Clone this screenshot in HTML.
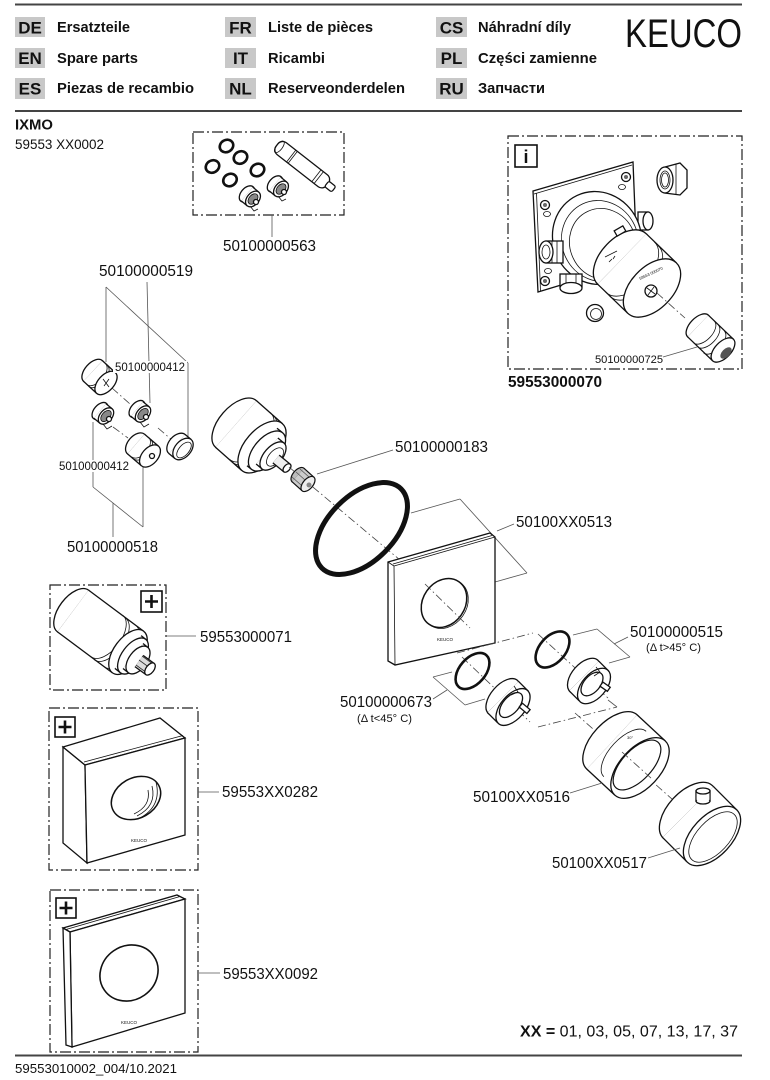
<!DOCTYPE html>
<html><head><meta charset="utf-8"><style>
html,body{margin:0;padding:0;background:#fff;}
svg{display:block;}
.t{font-family:"Liberation Sans",Arial,sans-serif;fill:#111;}
.dd{fill:none;stroke:#222;stroke-width:1.2;stroke-dasharray:11 3 2 3;}
.ax{fill:none;stroke:#444;stroke-width:0.8;stroke-dasharray:8 3 1.5 3;}
.ld{fill:none;stroke:#555;stroke-width:0.8;}
.p{fill:#fff;stroke:#111;stroke-width:1.3;}
.pl{fill:none;stroke:#111;stroke-width:0.8;}
.ring{fill:none;stroke:#111;stroke-width:2.6;}
</style></head><body>
<svg width="770" height="1080" viewBox="0 0 770 1080" xmlns="http://www.w3.org/2000/svg">
<rect width="770" height="1080" fill="#fff"/>

<!-- ===== HEADER ===== -->
<line x1="15" y1="4.5" x2="742" y2="4.5" stroke="#444" stroke-width="2"/>
<g fill="#c8c8c8">
<rect x="15" y="17" width="30" height="20"/><rect x="15" y="48" width="30" height="20"/><rect x="15" y="78" width="30" height="21"/>
<rect x="225" y="17" width="31" height="20"/><rect x="225" y="48" width="31" height="20"/><rect x="225" y="78" width="31" height="21"/>
<rect x="436" y="17" width="31" height="20"/><rect x="436" y="48" width="31" height="20"/><rect x="436" y="78" width="31" height="21"/>
</g>
<g class="t" font-weight="bold" font-size="17" text-anchor="middle">
<text x="30" y="33.5">DE</text><text x="30" y="64">EN</text><text x="30" y="94.5">ES</text>
<text x="240.5" y="33.5">FR</text><text x="240.5" y="64">IT</text><text x="240.5" y="94.5">NL</text>
<text x="451.5" y="33.5">CS</text><text x="451.5" y="64">PL</text><text x="451.5" y="94.5">RU</text>
</g>
<g class="t" font-weight="bold" font-size="15" lengthAdjust="spacingAndGlyphs">
<text x="57" y="32" textLength="73" lengthAdjust="spacingAndGlyphs">Ersatzteile</text>
<text x="57" y="63" textLength="81" lengthAdjust="spacingAndGlyphs">Spare parts</text>
<text x="57" y="93" textLength="137" lengthAdjust="spacingAndGlyphs">Piezas de recambio</text>
<text x="268" y="32" textLength="105" lengthAdjust="spacingAndGlyphs">Liste de pièces</text>
<text x="268" y="63" textLength="57" lengthAdjust="spacingAndGlyphs">Ricambi</text>
<text x="268" y="93" textLength="137" lengthAdjust="spacingAndGlyphs">Reserveonderdelen</text>
<text x="478" y="32" textLength="93" lengthAdjust="spacingAndGlyphs">Náhradní díly</text>
<text x="478" y="63" textLength="119" lengthAdjust="spacingAndGlyphs">Części zamienne</text>
<text x="478" y="93" textLength="67" lengthAdjust="spacingAndGlyphs">Запчасти</text>
</g>
<text class="t" x="625" y="47" font-size="40" textLength="117" lengthAdjust="spacingAndGlyphs">KEUCO</text>
<line x1="15" y1="111" x2="742" y2="111" stroke="#444" stroke-width="2"/>
<text class="t" x="15" y="129.5" font-size="14.5" font-weight="bold" textLength="38" lengthAdjust="spacingAndGlyphs">IXMO</text>
<text class="t" x="15" y="149" font-size="13.5" textLength="89" lengthAdjust="spacingAndGlyphs">59553 XX0002</text>

<!-- ===== BOX A : 50100000563 ===== -->
<rect x="193" y="132" width="151" height="83" class="dd"/>
<g class="ring">
<ellipse cx="226.5" cy="146" rx="7" ry="6" transform="rotate(-30 226.5 146)"/>
<ellipse cx="240.5" cy="157.5" rx="7" ry="6" transform="rotate(-30 240.5 157.5)"/>
<ellipse cx="212.5" cy="166.5" rx="7" ry="6" transform="rotate(-30 212.5 166.5)"/>
<ellipse cx="257.5" cy="170" rx="7" ry="6" transform="rotate(-30 257.5 170)"/>
<ellipse cx="230" cy="180" rx="7" ry="6" transform="rotate(-30 230 180)"/>
</g>
<g transform="translate(250,197)">
<ellipse cx="-3" cy="-3" rx="6" ry="9.5" transform="rotate(41 -3 -3)" class="p"/>
<line x1="-3" y1="-3" x2="3" y2="2" stroke="#111" stroke-width="19.3"/><line x1="-3" y1="-3" x2="3" y2="2" stroke="#fff" stroke-width="16.7"/>
<ellipse cx="3" cy="2" rx="6" ry="9" transform="rotate(41 3 2)" class="p"/>
<ellipse cx="3" cy="2" rx="4" ry="6" transform="rotate(41 3 2)" fill="#888" stroke="#111" stroke-width="0.8"/>
<circle cx="6" cy="5" r="2.5" class="p"/><path d="M0,9 l4,5 l4,-2" class="pl"/>
</g>
<g transform="translate(278,187)">
<ellipse cx="-3" cy="-3" rx="6" ry="9.5" transform="rotate(41 -3 -3)" class="p"/>
<line x1="-3" y1="-3" x2="3" y2="2" stroke="#111" stroke-width="19.3"/><line x1="-3" y1="-3" x2="3" y2="2" stroke="#fff" stroke-width="16.7"/>
<ellipse cx="3" cy="2" rx="6" ry="9" transform="rotate(41 3 2)" class="p"/>
<ellipse cx="3" cy="2" rx="4" ry="6" transform="rotate(41 3 2)" fill="#888" stroke="#111" stroke-width="0.8"/>
<circle cx="6" cy="5" r="2.5" class="p"/><path d="M0,9 l4,5 l4,-2" class="pl"/>
</g>
<g transform="translate(277,145) rotate(38)">
<rect x="0" y="-7.5" width="64" height="15" rx="6" class="p"/>
<ellipse cx="3" cy="0" rx="3" ry="7" class="pl"/>
<line x1="18" y1="-7.5" x2="18" y2="7.5" class="pl"/><line x1="20" y1="-7.5" x2="20" y2="7.5" class="pl"/>
<line x1="50" y1="-7.5" x2="50" y2="7.5" class="pl"/><line x1="53" y1="-7.5" x2="53" y2="7.5" class="pl"/>
<rect x="63" y="-3.5" width="9" height="7" rx="2" class="p"/>
</g>
<line x1="272" y1="215" x2="272" y2="237" class="ld"/>
<text class="t" x="223" y="251" font-size="15.5" textLength="93" lengthAdjust="spacingAndGlyphs">50100000563</text>

<!-- ===== BOX B : 59553000070 ===== -->
<path d="M508,136 H742 V369 H508 Z" class="dd"/>
<rect x="515" y="145" width="22" height="22" fill="#fff" stroke="#111" stroke-width="1.6"/>
<text class="t" x="526" y="163" font-size="18" font-weight="bold" text-anchor="middle">i</text>
<polygon class="p" points="533,191 633,162 637,262 538,292"/>
<line x1="536.5" y1="193" x2="540.5" y2="291" class="pl"/>
<line x1="534" y1="194" x2="632" y2="165" class="pl"/>
<circle cx="545" cy="205" r="4.5" class="p"/><circle cx="545" cy="205" r="2" fill="#666"/>
<ellipse cx="547" cy="214" rx="3.5" ry="2.5" class="pl"/>
<circle cx="626" cy="177" r="4.5" class="p"/><circle cx="626" cy="177" r="2" fill="#666"/>
<ellipse cx="622" cy="187" rx="3.5" ry="2.5" class="pl"/>
<circle cx="545" cy="281" r="4.5" class="p"/><circle cx="545" cy="281" r="2" fill="#666"/>
<ellipse cx="548" cy="271" rx="3.5" ry="2.5" class="pl"/>
<!-- top-right nozzle -->
<rect x="638" y="212" width="10" height="18" class="p"/><ellipse cx="648" cy="221" rx="5" ry="9" class="p"/>
<!-- housing -->
<ellipse cx="597" cy="238" rx="44" ry="47" transform="rotate(-25 597 238)" class="p"/>
<ellipse cx="600" cy="241" rx="38" ry="41" transform="rotate(-25 600 241)" class="pl"/>
<ellipse cx="603" cy="244" rx="33" ry="36" transform="rotate(-25 603 244)" class="pl"/>
<!-- left nozzle -->
<rect x="546" y="241" width="17" height="22" class="p"/>
<line x1="552" y1="241" x2="552" y2="263" class="pl"/><line x1="557" y1="241" x2="557" y2="263" class="pl"/>
<ellipse cx="546" cy="252" rx="7" ry="11" class="p"/><ellipse cx="546" cy="252" rx="4" ry="7" class="pl"/>
<!-- bottom nozzle -->
<rect x="560" y="274" width="22" height="13" class="p"/>
<line x1="566" y1="274" x2="566" y2="287" class="pl"/><line x1="576" y1="274" x2="576" y2="287" class="pl"/>
<ellipse cx="571" cy="288" rx="11" ry="5.5" class="p"/>
<!-- front cap cylinder -->
<ellipse cx="622" cy="259" rx="21" ry="35" transform="rotate(44 622 259)" class="p"/>
<line x1="622" y1="259" x2="652" y2="288" stroke="#111" stroke-width="71.3"/>
<line x1="622" y1="259" x2="652" y2="288" stroke="#fff" stroke-width="68.7"/>
<path d="M0,-35 A21,35 0 0 1 0,35" transform="translate(630,267) rotate(44)" class="pl"/>
<path d="M0,-35 A21,35 0 0 1 0,35" transform="translate(634,271) rotate(44)" class="pl"/>
<rect x="615" y="228" width="10" height="6" transform="rotate(-30 620 231)" class="p"/>
<path d="M605,257 l12,-6 M609,262 l3,-3 M613,259 l2,-3" class="pl"/>
<ellipse cx="652" cy="288" rx="21" ry="35" transform="rotate(44 652 288)" class="p"/>
<text class="t" x="640" y="280" font-size="4" transform="rotate(-25 640 280)">59553 000070</text>
<circle cx="651" cy="291" r="6" class="p"/>
<path d="M647,288 l8,6 M654,287 l-6,8" class="pl"/>
<!-- nut fitting -->
<polygon class="p" points="665,167 680,163 687,170 687,188 680,195 665,193"/>
<line x1="676" y1="164" x2="676" y2="194" class="pl"/>
<ellipse cx="665" cy="180" rx="8" ry="13" class="p"/><ellipse cx="665" cy="180" rx="5" ry="9" class="pl"/>
<ellipse cx="665" cy="180" rx="3.5" ry="7" class="pl"/>
<!-- plug -->
<circle cx="595" cy="313" r="8.5" class="p"/><circle cx="596" cy="314" r="5.5" class="pl"/>
<!-- cartridge 0725 -->
<line x1="657" y1="293" x2="685" y2="318" class="ax"/>
<ellipse cx="698" cy="326" rx="8" ry="15" transform="rotate(44 698 326)" class="p"/>
<line x1="698" y1="326" x2="723" y2="350" stroke="#111" stroke-width="31.3"/>
<line x1="698" y1="326" x2="723" y2="350" stroke="#fff" stroke-width="28.7"/>
<path d="M0,-15 A8,15 0 0 1 0,15" transform="translate(704,332) rotate(44)" class="pl"/>
<path d="M0,-15 A8,15 0 0 1 0,15" transform="translate(708,336) rotate(44)" class="pl"/>
<path d="M0,-15 A8,15 0 0 1 0,15" transform="translate(714,342) rotate(44)" class="pl"/>
<ellipse cx="723" cy="350" rx="8" ry="15" transform="rotate(44 723 350)" class="p"/>
<ellipse cx="726" cy="353" rx="4" ry="7" transform="rotate(44 726 353)" fill="#555"/>
<line x1="663" y1="357" x2="697" y2="347" class="ld"/>
<text class="t" x="595" y="363" font-size="11" textLength="68" lengthAdjust="spacingAndGlyphs">50100000725</text>
<text class="t" x="508" y="387" font-size="15.5" font-weight="bold" textLength="94" lengthAdjust="spacingAndGlyphs">59553000070</text>

<!-- ===== LEFT KIT ===== -->
<g class="ld">
<line x1="106" y1="287" x2="188" y2="363"/>
<line x1="106" y1="287" x2="106" y2="362"/>
<line x1="147" y1="282" x2="150" y2="403"/>
<line x1="188" y1="363" x2="188" y2="437"/>
<line x1="93" y1="422" x2="93" y2="487"/>
<line x1="93" y1="487" x2="143" y2="527"/>
<line x1="143" y1="463" x2="143" y2="527"/>
<line x1="113" y1="503" x2="113" y2="537"/>
</g>
<line x1="112" y1="388" x2="130" y2="404" class="ax"/>
<line x1="113" y1="427" x2="128" y2="438" class="ax"/>
<line x1="158" y1="428" x2="172" y2="440" class="ax"/>
<!-- cap1 -->
<ellipse cx="93" cy="371" rx="8" ry="14" transform="rotate(42 93 371)" class="p"/>
<line x1="93" y1="371" x2="106" y2="383" stroke="#111" stroke-width="29.3"/>
<line x1="93" y1="371" x2="106" y2="383" stroke="#fff" stroke-width="26.7"/>
<path d="M0,-14 A8,14 0 0 1 0,14" transform="translate(96,374) rotate(42)" class="pl"/>
<path d="M0,-14 A8,14 0 0 1 0,14" transform="translate(98,376) rotate(42)" class="pl"/>
<ellipse cx="106" cy="383" rx="8" ry="14" transform="rotate(42 106 383)" class="p"/>
<path d="M103,379 l6,8 M109,379 l-5,7" class="pl"/>
<!-- small cartridges -->
<g transform="translate(140,412)">
<ellipse cx="-3" cy="-3" rx="6" ry="10" transform="rotate(41 -3 -3)" class="p"/>
<line x1="-3" y1="-3" x2="3" y2="2" stroke="#111" stroke-width="20.3"/><line x1="-3" y1="-3" x2="3" y2="2" stroke="#fff" stroke-width="17.7"/>
<ellipse cx="3" cy="2" rx="6" ry="9.5" transform="rotate(41 3 2)" class="p"/>
<ellipse cx="3" cy="2" rx="4" ry="6.5" transform="rotate(41 3 2)" fill="#888" stroke="#111" stroke-width="0.8"/>
<circle cx="6" cy="5" r="2.5" class="p"/><path d="M0,10 l4,5 l5,-3" class="pl"/>
</g>
<g transform="translate(103,414)">
<ellipse cx="-3" cy="-3" rx="6" ry="10" transform="rotate(41 -3 -3)" class="p"/>
<line x1="-3" y1="-3" x2="3" y2="2" stroke="#111" stroke-width="20.3"/><line x1="-3" y1="-3" x2="3" y2="2" stroke="#fff" stroke-width="17.7"/>
<ellipse cx="3" cy="2" rx="6" ry="9.5" transform="rotate(41 3 2)" class="p"/>
<ellipse cx="3" cy="2" rx="4" ry="6.5" transform="rotate(41 3 2)" fill="#888" stroke="#111" stroke-width="0.8"/>
<circle cx="6" cy="5" r="2.5" class="p"/><path d="M0,10 l4,5 l5,-3" class="pl"/>
</g>
<!-- plug -->
<ellipse cx="136" cy="444" rx="8" ry="13" transform="rotate(41 136 444)" class="p"/>
<line x1="136" y1="444" x2="150" y2="456" stroke="#111" stroke-width="27.3"/>
<line x1="136" y1="444" x2="150" y2="456" stroke="#fff" stroke-width="24.7"/>
<path d="M0,-13 A8,13 0 0 1 0,13" transform="translate(140,447) rotate(41)" class="pl"/>
<path d="M0,-13 A8,13 0 0 1 0,13" transform="translate(142,449) rotate(41)" class="pl"/>
<ellipse cx="150" cy="456" rx="8" ry="13" transform="rotate(41 150 456)" class="p"/>
<circle cx="152" cy="456" r="2.5" class="p"/>
<!-- right cap -->
<ellipse cx="177" cy="444" rx="8" ry="12.5" transform="rotate(41 177 444)" class="p"/>
<line x1="177" y1="444" x2="183" y2="449" stroke="#111" stroke-width="26.3"/>
<line x1="177" y1="444" x2="183" y2="449" stroke="#fff" stroke-width="23.7"/>
<ellipse cx="183" cy="449" rx="8" ry="12.5" transform="rotate(41 183 449)" class="p"/>
<ellipse cx="184" cy="450" rx="5" ry="9.5" transform="rotate(41 184 450)" class="pl"/>
<!-- labels -->
<text class="t" x="99" y="276" font-size="15.5" textLength="94" lengthAdjust="spacingAndGlyphs">50100000519</text>
<rect x="113" y="361" width="74" height="12" fill="#fff"/>
<text class="t" x="115" y="371" font-size="11.5" textLength="70" lengthAdjust="spacingAndGlyphs">50100000412</text>
<rect x="57" y="460" width="74" height="12" fill="#fff"/>
<text class="t" x="59" y="470" font-size="11.5" textLength="70" lengthAdjust="spacingAndGlyphs">50100000412</text>
<text class="t" x="67" y="552" font-size="15.5" textLength="91" lengthAdjust="spacingAndGlyphs">50100000518</text>

<!-- ===== MAIN CARTRIDGE ===== -->
<ellipse cx="236" cy="424" rx="17" ry="31" transform="rotate(41 236 424)" class="p"/>
<line x1="236" y1="424" x2="262" y2="447" stroke="#111" stroke-width="63.3"/>
<line x1="236" y1="424" x2="262" y2="447" stroke="#fff" stroke-width="60.7"/>
<path d="M0,-31 A17,31 0 0 1 0,31" transform="translate(250,436) rotate(41)" class="pl"/>
<path d="M0,-31 A17,31 0 0 1 0,31" transform="translate(253,439) rotate(41)" class="pl"/>
<path d="M0,-31 A17,31 0 0 1 0,31" transform="translate(256,441.5) rotate(41)" class="pl"/>
<ellipse cx="262" cy="447" rx="17" ry="31" transform="rotate(41 262 447)" class="p"/>
<line x1="262" y1="447" x2="267" y2="451" stroke="#111" stroke-width="49.3"/>
<line x1="262" y1="447" x2="267" y2="451" stroke="#fff" stroke-width="46.7"/>
<ellipse cx="267" cy="451" rx="13" ry="24" transform="rotate(41 267 451)" class="p"/>
<line x1="267" y1="451" x2="273" y2="456" stroke="#111" stroke-width="35.3"/>
<line x1="267" y1="451" x2="273" y2="456" stroke="#fff" stroke-width="32.7"/>
<ellipse cx="273" cy="456" rx="9" ry="17" transform="rotate(41 273 456)" class="p"/>
<ellipse cx="275" cy="457" rx="6" ry="11" transform="rotate(41 275 457)" class="pl"/>
<line x1="276" y1="459" x2="287" y2="468" stroke="#111" stroke-width="11.3"/>
<line x1="276" y1="459" x2="287" y2="468" stroke="#eee" stroke-width="8.7"/>
<ellipse cx="287" cy="468" rx="3" ry="5" transform="rotate(41 287 468)" class="p"/>

<!-- main axis -->
<line x1="289" y1="467" x2="493" y2="638" class="ax"/>
<!-- nut 0183 -->
<ellipse cx="298" cy="475" rx="5" ry="9" transform="rotate(41 298 475)" fill="#bbb" stroke="#111" stroke-width="1.2"/>
<line x1="298" y1="475" x2="308" y2="484" stroke="#111" stroke-width="19.2"/>
<line x1="298" y1="475" x2="308" y2="484" stroke="#ccc" stroke-width="16.8"/>
<path d="M292,477 l9,8 M296,472 l9,8 M300,469 l9,8" stroke="#555" stroke-width="0.8"/>
<ellipse cx="308" cy="484" rx="5" ry="9" transform="rotate(41 308 484)" fill="#eee" stroke="#111" stroke-width="1.2"/>
<circle cx="309" cy="485" r="2.5" fill="#888"/>
<line x1="317" y1="474" x2="393" y2="450" class="ld"/>
<text class="t" x="395" y="452" font-size="15.5" textLength="93" lengthAdjust="spacingAndGlyphs">50100000183</text>

<!-- big O-ring -->
<ellipse cx="361.5" cy="528.5" rx="33" ry="56" transform="rotate(45 361.5 528.5)" fill="none" stroke="#111" stroke-width="5"/>

<!-- rosette 0513 -->
<g class="ld">
<line x1="411" y1="513" x2="460" y2="499"/>
<line x1="460" y1="499" x2="527" y2="573"/>
<line x1="495" y1="582" x2="527" y2="573"/>
<line x1="497" y1="531" x2="514" y2="524"/>
</g>
<polygon class="p" points="388,562 490,533 495,537 495,643 395,665 388,661"/>
<polyline points="388,562 394,566 395,665" class="pl"/>
<line x1="394" y1="566" x2="495" y2="537" class="pl"/>
<line x1="393" y1="564" x2="492" y2="535.5" class="pl"/>
<ellipse cx="444" cy="603" rx="21" ry="26" transform="rotate(35 444 603)" fill="#fff" stroke="#111" stroke-width="1.5"/>
<path d="M0,-26 A21,26 0 0 1 0,26" transform="translate(445.5,604) rotate(35)" class="pl"/>
<line x1="425" y1="584" x2="470" y2="628" class="ax"/>
<text class="t" x="437" y="641" font-size="4.5">KEUCO</text>
<text class="t" x="516" y="527" font-size="15.5" textLength="96" lengthAdjust="spacingAndGlyphs">50100XX0513</text>

<!-- projection planes -->
<g class="ld">
<line x1="573" y1="635" x2="597" y2="629"/>
<line x1="597" y1="629" x2="630" y2="657"/>
<line x1="630" y1="657" x2="609" y2="663"/>
<line x1="617" y1="707" x2="608" y2="700"/>
<line x1="614" y1="644" x2="628" y2="637"/>
<line x1="433" y1="677" x2="452" y2="672"/>
<line x1="433" y1="677" x2="465" y2="705"/>
<line x1="465" y1="705" x2="485" y2="699"/>
<line x1="433" y1="699" x2="447" y2="690"/>
</g>
<line x1="457" y1="653" x2="533" y2="633" class="ax"/>
<line x1="538" y1="727" x2="617" y2="707" class="ax"/>
<line x1="462" y1="657" x2="530" y2="722" class="ax"/>
<line x1="538" y1="634" x2="608" y2="698" class="ax"/>

<!-- O-rings A B -->
<ellipse cx="552.5" cy="649.5" rx="13" ry="21" transform="rotate(41 552.5 649.5)" class="ring"/>
<ellipse cx="472.5" cy="671" rx="13" ry="21" transform="rotate(41 472.5 671)" class="ring"/>
<!-- insert A -->
<ellipse cx="584" cy="676" rx="12" ry="21" transform="rotate(41 584 676)" class="p"/>
<line x1="584" y1="676" x2="594" y2="686" stroke="#111" stroke-width="43.3"/>
<line x1="584" y1="676" x2="594" y2="686" stroke="#fff" stroke-width="40.7"/>
<ellipse cx="594" cy="686" rx="12" ry="21" transform="rotate(41 594 686)" class="p"/>
<ellipse cx="592" cy="684" rx="8" ry="14" transform="rotate(41 592 684)" fill="#fff" stroke="#111" stroke-width="1.3"/>
<path d="M596,667 l4,5 l-6,4" class="pl"/>
<rect x="601" y="684" width="9" height="5" transform="rotate(35 605 686)" class="p"/>
<!-- insert B -->
<ellipse cx="503" cy="697" rx="12" ry="22" transform="rotate(41 503 697)" class="p"/>
<line x1="503" y1="697" x2="513" y2="707" stroke="#111" stroke-width="45.3"/>
<line x1="503" y1="697" x2="513" y2="707" stroke="#fff" stroke-width="42.7"/>
<ellipse cx="513" cy="707" rx="12" ry="22" transform="rotate(41 513 707)" class="p"/>
<ellipse cx="511" cy="705" rx="8" ry="15" transform="rotate(41 511 705)" fill="#fff" stroke="#111" stroke-width="1.3"/>
<path d="M514,686 l4,6 l-7,3" class="pl"/>
<rect x="520" y="706" width="10" height="5" transform="rotate(40 525 708)" class="p"/>
<text class="t" x="630" y="637" font-size="15.5" textLength="93" lengthAdjust="spacingAndGlyphs">50100000515</text>
<text class="t" x="646" y="651" font-size="11" textLength="55" lengthAdjust="spacingAndGlyphs">(Δ t&gt;45° C)</text>
<text class="t" x="340" y="707" font-size="15.5" textLength="92" lengthAdjust="spacingAndGlyphs">50100000673</text>
<text class="t" x="357" y="722" font-size="11" textLength="55" lengthAdjust="spacingAndGlyphs">(Δ t&lt;45° C)</text>

<!-- sleeve 0516 -->
<line x1="575" y1="713" x2="690" y2="815" class="ax"/>
<ellipse cx="612" cy="742" rx="20" ry="37" transform="rotate(43 612 742)" class="p"/>
<line x1="612" y1="742" x2="640" y2="768" stroke="#111" stroke-width="75.3"/>
<line x1="612" y1="742" x2="640" y2="768" stroke="#fff" stroke-width="72.7"/>
<ellipse cx="640" cy="768" rx="20" ry="37" transform="rotate(43 640 768)" class="p"/>
<ellipse cx="637" cy="765" rx="15" ry="31" transform="rotate(43 637 765)" fill="#fff" stroke="#111" stroke-width="1.2"/>
<path d="M0,-31 A15,31 0 0 0 0,31" transform="translate(625,754) rotate(43)" class="pl"/>
<line x1="622" y1="752" x2="652" y2="779" class="ax"/>
<text class="t" x="627" y="739" font-size="4">30°</text>
<line x1="602" y1="783" x2="570" y2="793" class="ld"/>
<text class="t" x="473" y="802" font-size="15.5" textLength="97" lengthAdjust="spacingAndGlyphs">50100XX0516</text>

<!-- knob 0517 -->
<ellipse cx="688" cy="812" rx="20" ry="36" transform="rotate(43 688 812)" class="p"/>
<line x1="688" y1="812" x2="712" y2="836" stroke="#111" stroke-width="73.3"/>
<line x1="688" y1="812" x2="712" y2="836" stroke="#fff" stroke-width="70.7"/>
<path d="M0,-36 A20,36 0 0 1 0,36" transform="translate(707,831) rotate(43)" class="pl"/>
<ellipse cx="712" cy="836" rx="20" ry="36" transform="rotate(43 712 836)" class="p"/>
<ellipse cx="713" cy="837" rx="16" ry="31" transform="rotate(43 713 837)" class="pl"/>
<rect x="696" y="791" width="14" height="10" class="p"/>
<ellipse cx="703" cy="801" rx="7" ry="3" class="p"/>
<rect x="696.6" y="791" width="12.8" height="9" fill="#fff"/>
<line x1="696" y1="791" x2="696" y2="801" class="pl"/><line x1="710" y1="791" x2="710" y2="801" class="pl"/>
<ellipse cx="703" cy="791" rx="7" ry="3" class="p"/>
<line x1="680" y1="848" x2="648" y2="858" class="ld"/>
<text class="t" x="552" y="868" font-size="15.5" textLength="95" lengthAdjust="spacingAndGlyphs">50100XX0517</text>

<!-- ===== BOX C : 59553000071 ===== -->
<rect x="50" y="585" width="116" height="105" class="dd"/>
<rect x="141" y="591" width="21" height="21" fill="#fff" stroke="#111" stroke-width="1.6"/>
<path d="M151.5,595 V608 M145,601.5 H158" stroke="#111" stroke-width="2.6"/>
<ellipse cx="73" cy="611" rx="14" ry="26" transform="rotate(37 73 611)" class="p"/>
<line x1="73" y1="611" x2="128" y2="652" stroke="#111" stroke-width="53.3"/>
<line x1="73" y1="611" x2="128" y2="652" stroke="#fff" stroke-width="50.7"/>
<path d="M0,-26 A14,26 0 0 1 0,26" transform="translate(107,636) rotate(37)" class="pl"/>
<path d="M0,-26 A14,26 0 0 1 0,26" transform="translate(110,639) rotate(37)" class="pl"/>
<path d="M0,-26 A14,26 0 0 1 0,26" transform="translate(120,646) rotate(37)" class="pl"/>
<ellipse cx="128" cy="652" rx="14" ry="26" transform="rotate(37 128 652)" class="p"/>
<line x1="128" y1="652" x2="133" y2="656" stroke="#111" stroke-width="43.3"/>
<line x1="128" y1="652" x2="133" y2="656" stroke="#fff" stroke-width="40.7"/>
<ellipse cx="133" cy="656" rx="11" ry="21" transform="rotate(37 133 656)" class="p"/>
<line x1="133" y1="656" x2="138" y2="660" stroke="#111" stroke-width="33.3"/>
<line x1="133" y1="656" x2="138" y2="660" stroke="#fff" stroke-width="30.7"/>
<ellipse cx="138" cy="660" rx="9" ry="16" transform="rotate(37 138 660)" class="p"/>
<line x1="139" y1="661" x2="150" y2="669" stroke="#111" stroke-width="15.3"/>
<line x1="139" y1="661" x2="150" y2="669" stroke="#ddd" stroke-width="12.7"/>
<path d="M136,665 l11,8 M139,660 l11,8 M142,656 l11,8" stroke="#333" stroke-width="0.8"/>
<ellipse cx="150" cy="669" rx="4" ry="7" transform="rotate(37 150 669)" class="p"/>
<line x1="166" y1="636" x2="196" y2="636" class="ld"/>
<text class="t" x="200" y="642" font-size="15.5" textLength="92" lengthAdjust="spacingAndGlyphs">59553000071</text>

<!-- ===== BOX D : 59553XX0282 ===== -->
<rect x="49" y="708" width="149" height="162" class="dd"/>
<rect x="55" y="717" width="20" height="20" fill="#fff" stroke="#111" stroke-width="1.6"/>
<path d="M65,720.5 V733.5 M58.5,727 H71.5" stroke="#111" stroke-width="2.6"/>
<polygon class="p" points="63,747 85,765 87,863 63,843"/>
<polygon class="p" points="63,747 160,718 185,738 85,765"/>
<polygon class="p" points="85,765 185,738 185,835 87,863"/>
<line x1="84" y1="762" x2="183" y2="735.5" class="pl"/>
<ellipse cx="136" cy="798" rx="26" ry="20" transform="rotate(-30 136 798)" fill="#fff" stroke="#111" stroke-width="1.5"/>
<path d="M156,782 Q162,806 140,818" class="pl"/>
<path d="M152,786 Q157,806 137,816" class="pl"/>
<path d="M148,790 Q151,806 134,814" class="pl"/>
<text class="t" x="131" y="842" font-size="4.5">KEUCO</text>
<line x1="198" y1="792" x2="219" y2="792" class="ld"/>
<text class="t" x="222" y="797" font-size="15.5" textLength="96" lengthAdjust="spacingAndGlyphs">59553XX0282</text>

<!-- ===== BOX E : 59553XX0092 ===== -->
<rect x="50" y="890" width="148" height="162" class="dd"/>
<rect x="56" y="898" width="20" height="20" fill="#fff" stroke="#111" stroke-width="1.6"/>
<path d="M66,901.5 V914.5 M59.5,908 H72.5" stroke="#111" stroke-width="2.6"/>
<polygon class="p" points="63,928 177,895 185,899 70,932"/>
<polygon class="p" points="70,932 185,899 185,1013 72,1047"/>
<polygon class="p" points="63,928 70,932 72,1047 66,1045"/>
<line x1="66" y1="929.5" x2="180" y2="896.5" class="pl"/>
<ellipse cx="129" cy="973" rx="30" ry="27" transform="rotate(-35 129 973)" fill="#fff" stroke="#111" stroke-width="1.6"/>
<text class="t" x="121" y="1024" font-size="4.5">KEUCO</text>
<line x1="199" y1="973" x2="220" y2="973" class="ld"/>
<text class="t" x="223" y="979" font-size="15.5" textLength="95" lengthAdjust="spacingAndGlyphs">59553XX0092</text>

<!-- ===== FOOTER ===== -->
<text class="t" x="520" y="1036.5" font-size="16" textLength="218" lengthAdjust="spacingAndGlyphs"><tspan font-weight="bold">XX =</tspan> 01, 03, 05, 07, 13, 17, 37</text>
<line x1="15" y1="1055.5" x2="742" y2="1055.5" stroke="#444" stroke-width="2"/>
<text class="t" x="15" y="1073" font-size="13" textLength="162" lengthAdjust="spacingAndGlyphs">59553010002_004/10.2021</text>
</svg>
</body></html>
